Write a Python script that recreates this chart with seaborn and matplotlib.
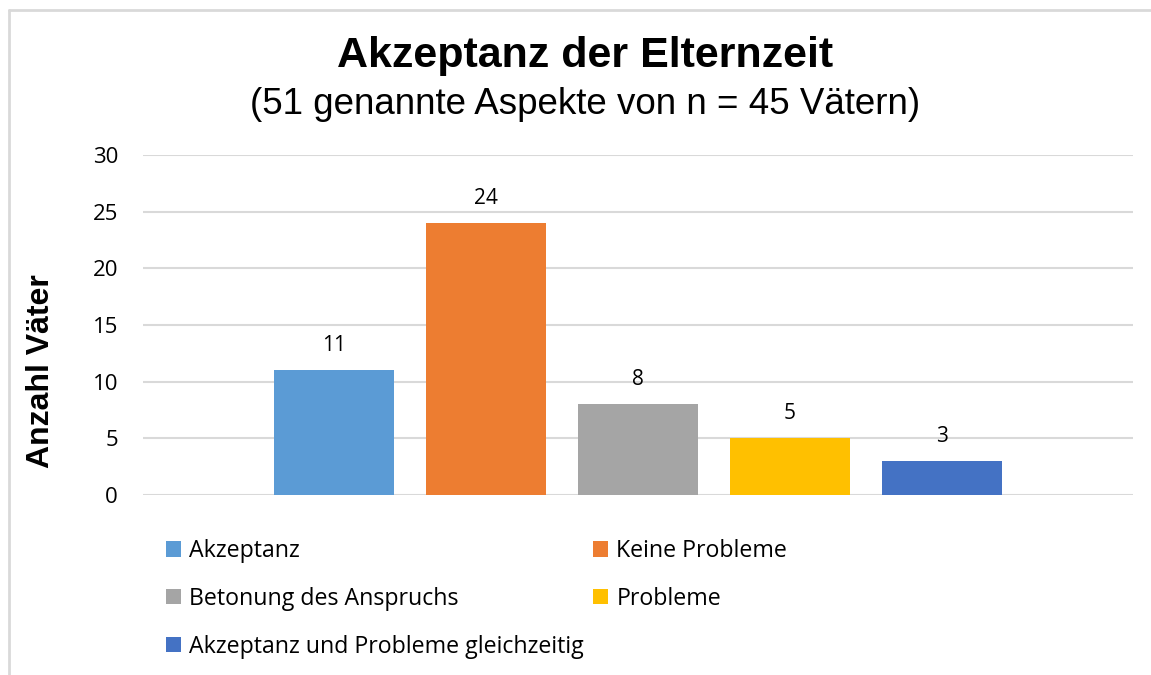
import matplotlib
matplotlib.use("Agg")
import matplotlib.pyplot as plt
import seaborn as sns
import pandas as pd
from matplotlib.lines import Line2D

# data
aspekte = ["Akzeptanz", "Keine Probleme", "Betonung des Anspruchs",
           "Probleme", "Akzeptanz und Probleme gleichzeitig"]
anzahl = [11, 24, 8, 5, 3]
farben = ["#5B9BD5", "#ED7D31", "#A5A5A5", "#FFC000", "#4472C4"]
y_ticks = [0, 5, 10, 15, 20, 25, 30]

df = pd.DataFrame({"gruppe": [""] * len(aspekte), "aspekt": aspekte, "anzahl": anzahl})

sns.set_theme(style="white")
plt.rcParams["font.family"] = ["Open Sans", "DejaVu Sans"]
plt.rcParams["text.color"] = "#000000"

fig = plt.figure(figsize=(11.51, 6.75), dpi=100)
ax = fig.add_axes([143 / 1151, 1 - 495 / 675, 990 / 1151, 340 / 675])

sns.barplot(
    data=df, x="gruppe", y="anzahl", hue="aspekt",
    hue_order=aspekte, palette=farben,
    width=0.768, gap=0.21, saturation=1, linewidth=0, ax=ax, legend=True
)

# werte ueber den balken
for cont in ax.containers:
    ax.bar_label(cont, fontsize=15, padding=10, color="#000000")

ax.set_ylim(0, 30)
ax.set_yticks(y_ticks)
ax.set_xlim(-0.5, 0.5)
ax.set_xticks([])
ax.set_xlabel("")
ax.tick_params(axis="y", length=0, pad=18, labelsize=16, labelcolor="#000000")
ax.grid(axis="y", color="#D9D9D9", linewidth=1.5)
ax.set_axisbelow(True)
sns.despine(ax=ax, left=True, bottom=True)

ax.set_ylabel("Anzahl Väter", fontsize=23, fontweight="bold",
              family="Liberation Sans", color="#000000")
ax.yaxis.set_label_coords(-0.088, 0.365)

# titel
fig.text(585 / 1151, 1 - 56 / 675, "Akzeptanz der Elternzeit",
         ha="center", va="center", fontsize=31, fontweight="bold",
         family="Liberation Sans", color="#000000")
fig.text(585 / 1151, 1 - 104 / 675, "(51 genannte Aspekte von n = 45 Vätern)",
         ha="center", va="center", fontsize=26.5,
         family="Liberation Sans", color="#000000")

# legende unten, zeilenweise wie im original
handles, labels = ax.get_legend_handles_labels()
ax.get_legend().remove()
order = [0, 2, 4, 1, 3]
fig.legend([handles[i] for i in order], [labels[i] for i in order],
           ncol=2, loc="upper left", bbox_to_anchor=(166 / 1151, 1 - 539 / 675),
           frameon=False, fontsize=16.7, handlelength=0.65, handleheight=0.65,
           handletextpad=0.35, labelspacing=1.03, columnspacing=0.4,
           borderaxespad=0, borderpad=0, labelcolor="#000000")

# rahmen links und oben
fig.add_artist(Line2D([9 / 1151, 9 / 1151], [0, 1 - 10 / 675],
                      transform=fig.transFigure, color="#D9D9D9", lw=2))
fig.add_artist(Line2D([9 / 1151, 1], [1 - 10 / 675, 1 - 10 / 675],
                      transform=fig.transFigure, color="#D9D9D9", lw=2))

fig.savefig("out.png", dpi=100)
